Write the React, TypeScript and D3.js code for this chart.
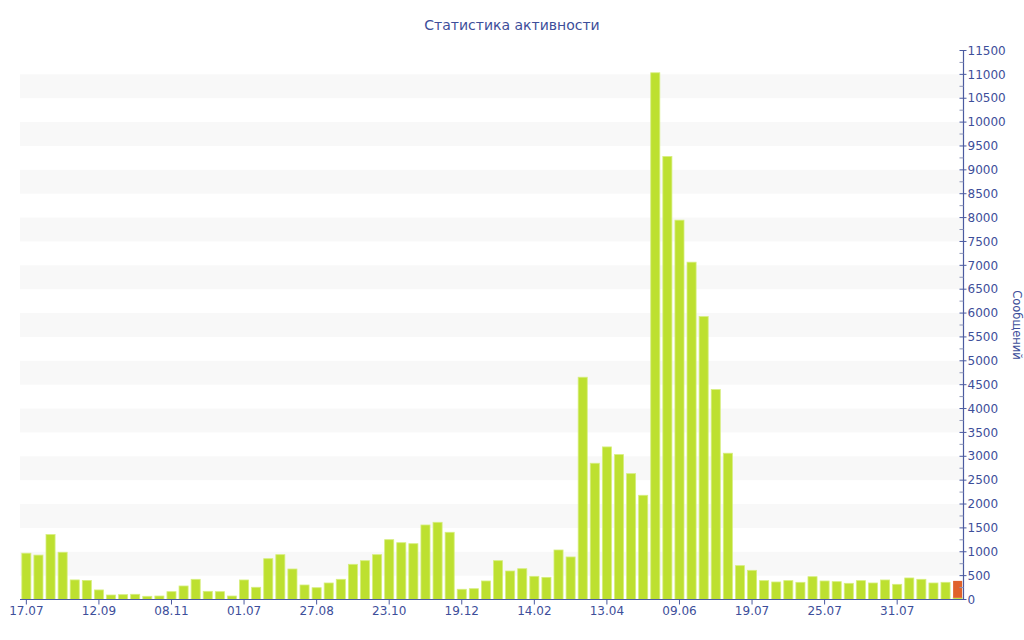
import React, { useMemo } from 'react';
import * as d3 from 'd3';

const WIDTH = 1024;
const HEIGHT = 640;
const PLOT = { left: 20, right: 964, top: 50.5, bottom: 599.5 };

const TEXT_COLOR = '#3d4e9a';
const AXIS_COLOR = '#4b5aa0';
const GREEN = '#bde030';
const GREEN_STROKE = '#d6ee7e';
const ORANGE = '#e0622a';

// messages per period (green) and the current, unfinished period (orange)
const messages = [
  970, 930, 1360, 990, 410, 400, 200, 94, 101, 109, 67, 73,
  164, 283, 423, 171, 164, 73, 409, 256, 855, 939, 639, 304,
  247, 346, 423, 737, 813, 939, 1253, 1190, 1169, 1561, 1617, 1408,
  214, 226, 388, 813, 597, 645, 486, 465, 1037, 891, 4656, 2854,
  3196, 3035, 2636, 2183, 11033, 9279, 7946, 7066, 5926, 4397, 3064, 709,
  611, 395, 367, 395, 360, 478, 388, 374, 339, 395, 346, 409,
  318, 451, 423, 346, 360, 35,
];
const current = [
  0, 0, 0, 0, 0, 0, 0, 0, 0, 0, 0, 0,
  0, 0, 0, 0, 0, 0, 0, 0, 0, 0, 0, 0,
  0, 0, 0, 0, 0, 0, 0, 0, 0, 0, 0, 0,
  0, 0, 0, 0, 0, 0, 0, 0, 0, 0, 0, 0,
  0, 0, 0, 0, 0, 0, 0, 0, 0, 0, 0, 0,
  0, 0, 0, 0, 0, 0, 0, 0, 0, 0, 0, 0,
  0, 0, 0, 0, 0, 355,
];

// one label every 6 bars
const TICK_EVERY = 6;
const tickLabels = [
  '17.07', '12.09', '08.11', '01.07', '27.08', '23.10', '19.12',
  '14.02', '13.04', '09.06', '19.07', '25.07', '31.07',
];

const Y_MAX = 11500;
const Y_STEP = 500;

const App = () => {
  const xScale = useMemo(
    () =>
      d3
        .scaleBand<number>()
        .domain(d3.range(messages.length))
        .range([PLOT.left, PLOT.right])
        .paddingInner(0.25)
        .paddingOuter(0.15),
    []
  );

  const yScale = useMemo(
    () => d3.scaleLinear().domain([0, Y_MAX]).range([PLOT.bottom, PLOT.top]),
    []
  );

  const majorTicks = d3.range(0, Y_MAX + 1, Y_STEP);
  const minorTicks = d3.range(Y_STEP / 2, Y_MAX, Y_STEP);
  const stripes = d3.range(Y_STEP, Y_MAX - Y_STEP, Y_STEP * 2);

  const bw = xScale.bandwidth();
  const axisX = PLOT.right - 0.5;

  return (
    <svg
      width={WIDTH}
      height={HEIGHT}
      style={{ position: 'absolute', left: 0, top: 0 }}
      fontFamily="'DejaVu Sans', Verdana, sans-serif"
    >
      <rect width={WIDTH} height={HEIGHT} fill="#fff" />

      {stripes.map((v) => (
        <rect
          key={v}
          x={PLOT.left}
          width={axisX - PLOT.left}
          y={yScale(v + Y_STEP)}
          height={yScale(v) - yScale(v + Y_STEP)}
          fill="#f8f8f8"
        />
      ))}

      {messages.map((d, i) => {
        const x = xScale(i) ?? 0;
        return (
          <g key={i}>
            <rect
              x={x}
              width={bw}
              y={yScale(d)}
              height={yScale(0) - yScale(d)}
              fill={GREEN}
              stroke={GREEN_STROKE}
              strokeWidth={0.8}
            />
            {current[i] > 0 && (
              <rect
                x={x}
                width={bw}
                y={yScale(d + current[i])}
                height={yScale(d) - yScale(d + current[i])}
                fill={ORANGE}
              />
            )}
          </g>
        );
      })}

      {/* x axis */}
      <line
        x1={PLOT.left}
        x2={axisX}
        y1={PLOT.bottom}
        y2={PLOT.bottom}
        stroke={AXIS_COLOR}
        strokeWidth={1.2}
      />
      {tickLabels.map((label, k) => {
        const cx = (xScale(k * TICK_EVERY) ?? 0) + bw / 2;
        return (
          <g key={label + k} transform={`translate(${cx},${PLOT.bottom})`}>
            <line y1={0} y2={5} stroke={AXIS_COLOR} />
            <text y={15} textAnchor="middle" fontSize={12} fill={TEXT_COLOR}>
              {label}
            </text>
          </g>
        );
      })}

      {/* y axis on the right */}
      <line
        x1={axisX}
        x2={axisX}
        y1={PLOT.top}
        y2={PLOT.bottom}
        stroke={AXIS_COLOR}
        strokeWidth={1.2}
      />
      {minorTicks.map((v) => (
        <line
          key={'m' + v}
          x1={axisX - 4}
          x2={axisX}
          y1={yScale(v)}
          y2={yScale(v)}
          stroke="#8c94b8"
        />
      ))}
      {majorTicks.map((v) => (
        <g key={v} transform={`translate(${axisX},${yScale(v)})`}>
          <line x1={-4} x2={3} stroke={AXIS_COLOR} />
          <text x={4} dy="0.35em" fontSize={12} fill={TEXT_COLOR}>
            {v}
          </text>
        </g>
      ))}

      <text
        transform={`translate(1013,${(PLOT.top + PLOT.bottom) / 2}) rotate(90)`}
        textAnchor="middle"
        fontSize={11.5}
        fill={TEXT_COLOR}
      >
        Сообщений
      </text>

      <text x={512} y={30} textAnchor="middle" fontSize={14} fill={TEXT_COLOR}>
        Статистика активности
      </text>
    </svg>
  );
};

export default App;
